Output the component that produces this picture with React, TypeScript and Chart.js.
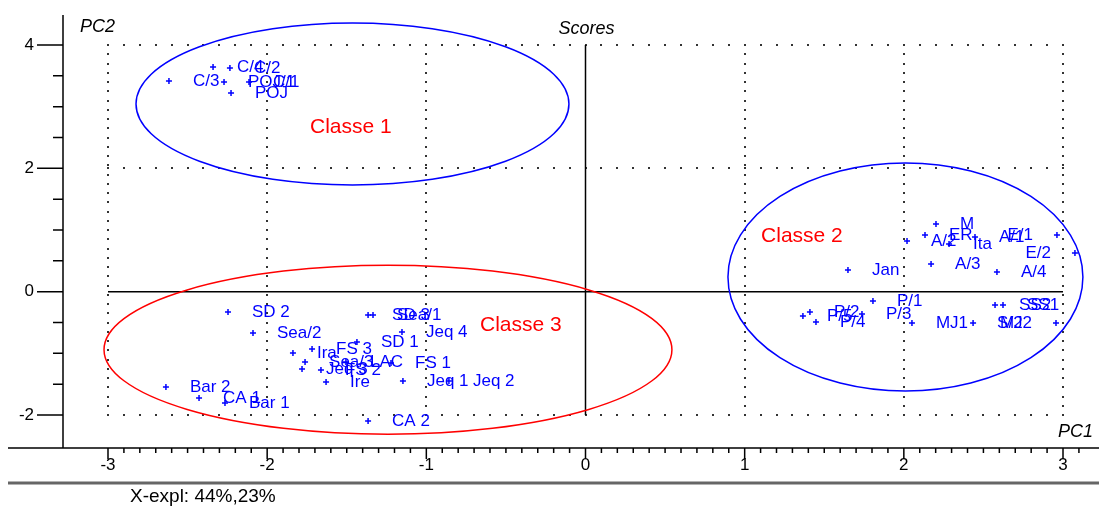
import { useEffect, useRef } from "react";
import { Chart, registerables } from "chart.js";

Chart.register(...registerables);

// Sample scores on the first two principal components, grouped by class
const class1Names = ["C/3", "C/4", "C/2", "POJ/1", "C/1", "POJ"];
const class1PC1 = [-2.617, -2.34, -2.234, -2.271, -2.114, -2.227];
const class1PC2 = [3.417, 3.644, 3.627, 3.4, 3.4, 3.222];

const class2Names = [
  "A/2", "ER", "M", "Ita", "A/1", "E/1", "E/2", "A/3", "A/4", "Jan",
  "P/1", "P/5", "P/2", "P/4", "P/3", "MJ1", "S/2", "MJ2", "SS2", "SS1",
];
const class2PC1 = [
  2.02, 2.133, 2.202, 2.284, 2.447, 2.962, 3.075, 2.171, 2.585, 1.649,
  1.806, 1.366, 1.41, 1.448, 1.737, 2.051, 2.435, 2.956, 2.573, 2.623,
];
const class2PC2 = [
  0.822, 0.919, 1.098, 0.773, 0.887, 0.919, 0.628, 0.449, 0.319, 0.352,
  -0.151, -0.394, -0.329, -0.491, -0.362, -0.508, -0.508, -0.508, -0.216, -0.216,
];

const class3Names = [
  "SD 2", "Sea/2", "Ira", "FS 3", "Sea/3", "Jeq 3", "FS 2", "Ire", "SD 1", "SD 3",
  "Sea/1", "LAC", "FS 1", "Jeq 4", "Jeq 1", "Jeq 2", "Bar 2", "CA 1", "Bar 1", "CA 2",
];
const class3PC1 = [
  -2.246, -2.089, -1.838, -1.718, -1.762, -1.781, -1.662, -1.63, -1.436, -1.366,
  -1.335, -1.505, -1.222, -1.153, -1.147, -0.858, -2.636, -2.428, -2.265, -1.366,
];
const class3PC2 = [
  -0.329, -0.67, -0.994, -0.929, -1.14, -1.253, -1.27, -1.464, -0.816, -0.378,
  -0.378, -1.14, -1.156, -0.653, -1.448, -1.448, -1.545, -1.724, -1.805, -2.097,
];

// Class regions (ellipses) and their captions
const classNames = ["Classe 1", "Classe 2", "Classe 3"];
const classColors = ["#0000ff", "#0000ff", "#ff0000"];
const classCenterX = [-1.464, 2.01, -1.241];
const classCenterY = [3.044, 0.238, -0.94];
const classRadiusX = [1.36, 1.115, 1.784];
const classRadiusY = [1.313, 1.849, 1.37];
const classLabelX = [-1.731, 1.103, -0.663];
const classLabelY = [2.671, 0.903, -0.54];

// Axis ticks and reference grid
const xTickValues = [-3, -2, -1, 0, 1, 2, 3];
const yTickValues = [-2, 0, 2, 4];
const yMinorStep = 0.5;
const xMinorStep = 0.1;

const xTitle = "PC1";
const yTitle = "PC2";
const plotTitle = "Scores";
const explainedText = "X-expl: 44%,23%";

const X_MIN = -3.2827;
const X_MAX = 3.1696;
const Y_MIN = -2.5345;
const Y_MAX = 4.4868;

const BLUE = "#0000ff";
const FONT = '"Liberation Sans", Arial, sans-serif';

const scoresPlugin = {
  id: "scoresFrame",
  beforeDatasetsDraw(chart: any) {
    const { ctx, chartArea, scales } = chart;
    const xs = scales.x;
    const ys = scales.y;
    const px = (v: number) => xs.getPixelForValue(v);
    const py = (v: number) => ys.getPixelForValue(v);
    const gx0 = xTickValues[0];
    const gx1 = xTickValues[xTickValues.length - 1];
    const gy0 = yTickValues[0];
    const gy1 = yTickValues[yTickValues.length - 1];

    ctx.save();
    // dotted reference grid
    ctx.fillStyle = "#333";
    for (const gx of xTickValues) {
      if (gx === 0) continue;
      const n = 40;
      for (let k = 0; k <= n; k++) {
        const v = gy0 + ((gy1 - gy0) * k) / n;
        ctx.fillRect(Math.round(px(gx)) - 1, Math.round(py(v)) - 1, 2, 2);
      }
    }
    for (const gy of yTickValues) {
      if (gy === 0) continue;
      const n = Math.round((gx1 - gx0) / 0.1);
      for (let k = 0; k <= n; k++) {
        const v = gx0 + ((gx1 - gx0) * k) / n;
        ctx.fillRect(Math.round(px(v)) - 1, Math.round(py(gy)) - 1, 2, 2);
      }
    }

    // solid zero lines
    ctx.strokeStyle = "#000";
    ctx.lineWidth = 1.5;
    ctx.beginPath();
    ctx.moveTo(px(0), py(gy1));
    ctx.lineTo(px(0), py(gy0));
    ctx.moveTo(px(gx0), py(0));
    ctx.lineTo(px(gx1), py(0));
    ctx.stroke();

    // y axis
    ctx.lineWidth = 1.5;
    ctx.beginPath();
    ctx.moveTo(chartArea.left, chartArea.top);
    ctx.lineTo(chartArea.left, chartArea.bottom);
    const nY = Math.round((gy1 - gy0) / yMinorStep);
    for (let k = 0; k <= nY; k++) {
      const v = gy0 + k * yMinorStep;
      const labelled = yTickValues.includes(v);
      const len = labelled ? 26 : 10;
      ctx.moveTo(chartArea.left, py(v));
      ctx.lineTo(chartArea.left - len, py(v));
    }
    ctx.stroke();
    ctx.fillStyle = "#000";
    ctx.font = `17px ${FONT}`;
    ctx.textAlign = "right";
    ctx.textBaseline = "middle";
    for (const v of yTickValues) ctx.fillText(String(v), chartArea.left - 29, py(v));

    // x axis
    const axisY = chartArea.bottom;
    ctx.beginPath();
    ctx.moveTo(0, axisY);
    ctx.lineTo(chart.width, axisY);
    const nX = Math.floor((X_MAX - gx0) / xMinorStep + 1e-6);
    for (let k = 0; k <= nX; k++) {
      const v = gx0 + k * xMinorStep;
      const major = Math.abs(v - Math.round(v)) < 1e-6;
      ctx.moveTo(px(v), axisY);
      ctx.lineTo(px(v), axisY + (major ? 11 : 5));
    }
    ctx.stroke();
    ctx.textAlign = "center";
    for (const v of xTickValues) ctx.fillText(String(v), px(v), axisY + 17);

    // lower rule and explained variance
    ctx.strokeStyle = "#666";
    ctx.lineWidth = 3;
    ctx.beginPath();
    ctx.moveTo(0, axisY + 35);
    ctx.lineTo(chart.width, axisY + 35);
    ctx.stroke();
    ctx.fillStyle = "#000";
    ctx.textAlign = "left";
    ctx.font = `19px ${FONT}`;
    ctx.fillText(explainedText, 122, axisY + 49);

    // class ellipses
    const ux = Math.abs(px(1) - px(0));
    const uy = Math.abs(py(1) - py(0));
    ctx.lineWidth = 1.5;
    for (let i = 0; i < classNames.length; i++) {
      ctx.strokeStyle = classColors[i];
      ctx.beginPath();
      ctx.ellipse(px(classCenterX[i]), py(classCenterY[i]), classRadiusX[i] * ux, classRadiusY[i] * uy, 0, 0, Math.PI * 2);
      ctx.stroke();
    }
    ctx.restore();
  },
  afterDatasetsDraw(chart: any) {
    const { ctx, chartArea, scales } = chart;
    const px = (v: number) => scales.x.getPixelForValue(v);
    const py = (v: number) => scales.y.getPixelForValue(v);
    ctx.save();

    // sample names beside each point
    ctx.font = `17px ${FONT}`;
    ctx.fillStyle = BLUE;
    ctx.textBaseline = "middle";
    const offset = 24;
    chart.data.datasets.forEach((ds: any, di: number) => {
      const meta = chart.getDatasetMeta(di);
      meta.data.forEach((pt: any, i: number) => {
        const name = ds.names[i];
        const w = ctx.measureText(name).width;
        if (pt.x + offset + w > chartArea.right) {
          ctx.textAlign = "right";
          ctx.fillText(name, pt.x - offset, pt.y);
        } else {
          ctx.textAlign = "left";
          ctx.fillText(name, pt.x + offset, pt.y);
        }
      });
    });

    // class captions
    ctx.font = `21px ${FONT}`;
    ctx.fillStyle = "#ff0000";
    ctx.textAlign = "left";
    for (let i = 0; i < classNames.length; i++) {
      ctx.fillText(classNames[i], px(classLabelX[i]), py(classLabelY[i]));
    }

    // titles
    ctx.fillStyle = "#000";
    ctx.font = `italic 18px ${FONT}`;
    ctx.textAlign = "left";
    ctx.fillText(yTitle, chartArea.left + 17, chartArea.top + 12);
    ctx.textAlign = "center";
    ctx.fillText(plotTitle, px(0) + 1, chartArea.top + 14);
    ctx.textAlign = "left";
    ctx.fillText(xTitle, chartArea.right - 32, chartArea.bottom - 16);
    ctx.restore();
  },
};

const groups = [
  { names: class1Names, pc1: class1PC1, pc2: class1PC2 },
  { names: class2Names, pc1: class2PC1, pc2: class2PC2 },
  { names: class3Names, pc1: class3PC1, pc2: class3PC2 },
];

export default function App() {
  const ref = useRef<HTMLCanvasElement>(null);
  useEffect(() => {
    const canvas = ref.current;
    if (!canvas) return;
    const chart = new Chart(canvas, {
      type: "scatter",
      data: {
        datasets: groups.map((g) => ({
          names: g.names,
          data: g.pc1.map((x, i) => ({ x, y: g.pc2[i] })),
          pointStyle: "cross",
          pointRadius: 3,
          borderColor: BLUE,
          backgroundColor: BLUE,
          borderWidth: 1.5,
        })) as any,
      },
      options: {
        responsive: false,
        animation: false,
        devicePixelRatio: 1,
        events: [],
        layout: { padding: { left: 55, top: 7, right: 9, bottom: 58 } },
        scales: {
          x: { type: "linear", display: false, min: X_MIN, max: X_MAX },
          y: { type: "linear", display: false, min: Y_MIN, max: Y_MAX },
        },
        plugins: { legend: { display: false }, tooltip: { enabled: false } },
      },
      plugins: [scoresPlugin],
    });
    return () => chart.destroy();
  }, []);
  return (
    <div style={{ position: "fixed", left: 8, top: 8, width: 1091, height: 498 }}>
      <canvas ref={ref} width={1091} height={498} style={{ display: "block" }} />
    </div>
  );
}
